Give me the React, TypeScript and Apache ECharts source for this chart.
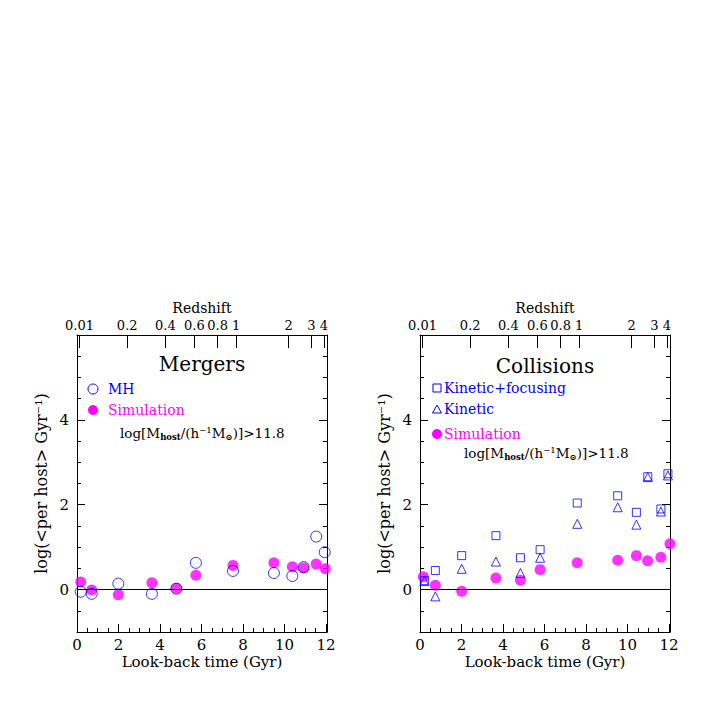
import React, { useEffect, useRef } from "react";
import * as echarts from "echarts";

// ---------- data ----------
const redshiftLabels = ["0.01", "0.2", "0.4", "0.6", "0.8", "1", "2", "3", "4"];
const redshiftLookback = [0.12, 2.42, 4.26, 5.66, 6.78, 7.67, 10.2, 11.3, 11.9];

const mergersMH: [number, number][] = [
  [0.18, -0.05], [0.71, -0.1], [1.99, 0.14], [3.61, -0.1], [4.79, 0.02], [5.73, 0.63],
  [7.52, 0.44], [9.49, 0.39], [10.38, 0.32], [10.92, 0.53], [11.53, 1.25], [11.94, 0.88],
];
const mergersSim: [number, number][] = [
  [0.18, 0.18], [0.71, -0.01], [1.99, -0.12], [3.61, 0.16], [4.79, 0.03], [5.73, 0.34],
  [7.52, 0.57], [9.49, 0.63], [10.38, 0.54], [10.92, 0.51], [11.53, 0.6], [11.97, 0.49],
];
const collKinFoc: [number, number][] = [
  [0.21, 0.21], [0.74, 0.45], [2.01, 0.8], [3.66, 1.27], [4.84, 0.75], [5.79, 0.94],
  [7.58, 2.04], [9.53, 2.21], [10.43, 1.82], [10.98, 2.66], [11.61, 1.9], [11.95, 2.73],
];
const collKin: [number, number][] = [
  [0.21, 0.2], [0.74, -0.16], [2.01, 0.49], [3.66, 0.66], [4.84, 0.39], [5.79, 0.75],
  [7.58, 1.55], [9.53, 1.94], [10.43, 1.53], [10.98, 2.65], [11.61, 1.84], [11.95, 2.69],
];
const collSim: [number, number][] = [
  [0.16, 0.3], [0.74, 0.1], [2.01, -0.04], [3.66, 0.27], [4.84, 0.22], [5.79, 0.47],
  [7.58, 0.63], [9.53, 0.69], [10.43, 0.8], [10.97, 0.68], [11.61, 0.76], [12.05, 1.08],
];
const xMajorTicks = [0, 2, 4, 6, 8, 10, 12];
const xMinorTicks = [0.5, 1, 1.5, 2.5, 3, 3.5, 4.5, 5, 5.5, 6.5, 7, 7.5, 8.5, 9, 9.5, 10.5, 11, 11.5];
const yMajorTicks = [0, 2, 4];
const yMinorTicks = [-0.5, 0.5, 1, 1.5, 2.5, 3, 3.5, 4.5, 5, 5.5];

const BLUE = "#0000ff";
const MAGENTA = "#ff00ff";
const FONT = "DejaVu Serif";

export default function App() {
  const ref = useRef<HTMLDivElement>(null);
  useEffect(() => {
    document.body.style.margin = "0";
    const chart = echarts.init(ref.current!, null, { renderer: "svg" });
    const grids = [
      { left: 77, top: 335, width: 250, height: 297 },
      { left: 420, top: 335, width: 250, height: 297 },
    ];
    const xMin = 0, xMax = 12.05, yMin = -1, yMax = 6;
    const lineStyle = { color: "#000", width: 1 };
    const xAxes: any[] = [];
    const yAxes: any[] = [];
    grids.forEach((_, g) => {
      xAxes.push({
        type: "value", gridIndex: g, position: "bottom", min: xMin, max: xMax,
        axisLine: { show: true, onZero: false, lineStyle },
        axisTick: { show: true, inside: true, length: 8, lineStyle, customValues: xMajorTicks },
        axisLabel: { show: true, customValues: xMajorTicks, color: "#000", fontFamily: FONT, fontSize: 15, margin: 5 },
        splitLine: { show: false },
        name: "Look-back time (Gyr)", nameLocation: "middle", nameGap: 22,
        nameTextStyle: { color: "#000", fontFamily: FONT, fontSize: 15 },
      });
      xAxes.push({
        type: "value", gridIndex: g, position: "bottom", min: xMin, max: xMax,
        axisLine: { show: false, onZero: false },
        axisTick: { show: true, inside: true, length: 4, lineStyle, customValues: xMinorTicks },
        axisLabel: { show: false },
        splitLine: { show: false },
      });
      xAxes.push({
        type: "value", gridIndex: g, position: "top", min: xMin, max: xMax,
        axisLine: { show: true, onZero: false, lineStyle },
        axisTick: { show: true, inside: true, length: 13, lineStyle, customValues: redshiftLookback },
        axisLabel: {
          show: true, customValues: redshiftLookback, color: "#000", fontFamily: FONT, fontSize: 13, margin: 3,
          formatter: (v: number) => {
            let best = 0;
            redshiftLookback.forEach((t, i) => { if (Math.abs(t - v) < Math.abs(redshiftLookback[best] - v)) best = i; });
            return redshiftLabels[best];
          },
        },
        splitLine: { show: false },
        name: "Redshift", nameLocation: "middle", nameGap: 20,
        nameTextStyle: { color: "#000", fontFamily: FONT, fontSize: 14 },
      });
      yAxes.push({
        type: "value", gridIndex: g, position: "left", min: yMin, max: yMax,
        axisLine: { show: true, onZero: false, lineStyle },
        axisTick: { show: true, inside: true, length: 8, lineStyle, customValues: yMajorTicks },
        axisLabel: { show: true, customValues: yMajorTicks, color: "#000", fontFamily: FONT, fontSize: 15, margin: 8 },
        splitLine: { show: false },
        name: "log(<per host> Gyr⁻¹)", nameLocation: "middle", nameGap: 28, nameRotate: 90,
        nameTextStyle: { color: "#000", fontFamily: FONT, fontSize: 16 },
      });
      yAxes.push({
        type: "value", gridIndex: g, position: "left", min: yMin, max: yMax,
        axisLine: { show: false, onZero: false },
        axisTick: { show: true, inside: true, length: 4, lineStyle, customValues: yMinorTicks },
        axisLabel: { show: false }, splitLine: { show: false },
      });
      yAxes.push({
        type: "value", gridIndex: g, position: "right", min: yMin, max: yMax,
        axisLine: { show: true, onZero: false, lineStyle },
        axisTick: { show: true, inside: true, length: 8, lineStyle, customValues: yMajorTicks },
        axisLabel: { show: false }, splitLine: { show: false },
      });
      yAxes.push({
        type: "value", gridIndex: g, position: "right", min: yMin, max: yMax,
        axisLine: { show: false, onZero: false },
        axisTick: { show: true, inside: true, length: 4, lineStyle, customValues: yMinorTicks },
        axisLabel: { show: false }, splitLine: { show: false },
      });
    });

    const zeroLine = {
      silent: true, symbol: "none", label: { show: false },
      lineStyle: { color: "#000", width: 1, type: "solid" },
      data: [{ yAxis: 0 }],
    };
    const hollow = (c: string) => ({ color: "rgba(0,0,0,0)", borderColor: c, borderWidth: 1 });

    const series: any[] = [
      { name: "Simulation", type: "scatter", xAxisIndex: 0, yAxisIndex: 0, data: mergersSim, symbol: "circle", symbolSize: 11, itemStyle: { color: MAGENTA }, markLine: zeroLine, z: 2 },
      { name: "MH", type: "scatter", xAxisIndex: 0, yAxisIndex: 0, data: mergersMH, symbol: "circle", symbolSize: 11, itemStyle: hollow(BLUE), z: 3 },
      { name: "Simulation ", type: "scatter", xAxisIndex: 3, yAxisIndex: 4, data: collSim, symbol: "circle", symbolSize: 11, itemStyle: { color: MAGENTA }, markLine: zeroLine, z: 2 },
      { name: "Kinetic+focusing", type: "scatter", xAxisIndex: 3, yAxisIndex: 4, data: collKinFoc, symbol: "rect", symbolSize: 8, itemStyle: hollow(BLUE), z: 3 },
      { name: "Kinetic", type: "scatter", xAxisIndex: 3, yAxisIndex: 4, data: collKin, symbol: "triangle", symbolSize: 9, itemStyle: hollow(BLUE), z: 3 },
    ];

    const txt = (x: number, y: number, text: string, fill: string, size = 14, align = "left") => ({
      type: "text", x, y,
      style: { text, fill, fontFamily: FONT, fontSize: size, align, verticalAlign: "middle" },
    });
    const richLabel = (x: number, y: number) => ({
      type: "text", x, y,
      style: {
        text: "log[M{s|host}/(h⁻¹M{s|⊙})]>11.8",
        fill: "#000", fontFamily: FONT, fontSize: 13.5, align: "left", verticalAlign: "middle",
        rich: { s: { fontSize: 8.5, fontFamily: FONT, fill: "#000", fontWeight: "bold", padding: [7, 0, 0, 0], verticalAlign: "bottom" } },
      },
    });

    const graphic: any[] = [
      txt(202, 364, "Mergers", "#000", 20, "center"),
      txt(545, 366, "Collisions", "#000", 20, "center"),
      { type: "circle", shape: { cx: 93, cy: 389, r: 5 }, style: { fill: "none", stroke: BLUE, lineWidth: 1 } },
      txt(108, 389, "MH", BLUE),
      { type: "circle", shape: { cx: 93, cy: 410, r: 5 }, style: { fill: MAGENTA } },
      txt(108, 410, "Simulation", MAGENTA),
      richLabel(120, 433),
      { type: "rect", shape: { x: 433, y: 384, width: 8, height: 8 }, style: { fill: "none", stroke: BLUE, lineWidth: 1 } },
      txt(444, 388, "Kinetic+focusing", BLUE),
      { type: "polygon", shape: { points: [[437, 405], [441.5, 413], [432.5, 413]] }, style: { fill: "none", stroke: BLUE, lineWidth: 1 } },
      txt(444, 409, "Kinetic", BLUE),
      { type: "circle", shape: { cx: 437, cy: 434, r: 5 }, style: { fill: MAGENTA } },
      txt(444, 434, "Simulation", MAGENTA),
      richLabel(464, 453),
    ];

    chart.setOption({
      animation: false,
      backgroundColor: "#fff",
      grid: grids,
      xAxis: xAxes,
      yAxis: yAxes,
      series,
      graphic,
    });
    return () => chart.dispose();
  }, []);
  return <div ref={ref} style={{ width: 708, height: 708 }} />;
}
